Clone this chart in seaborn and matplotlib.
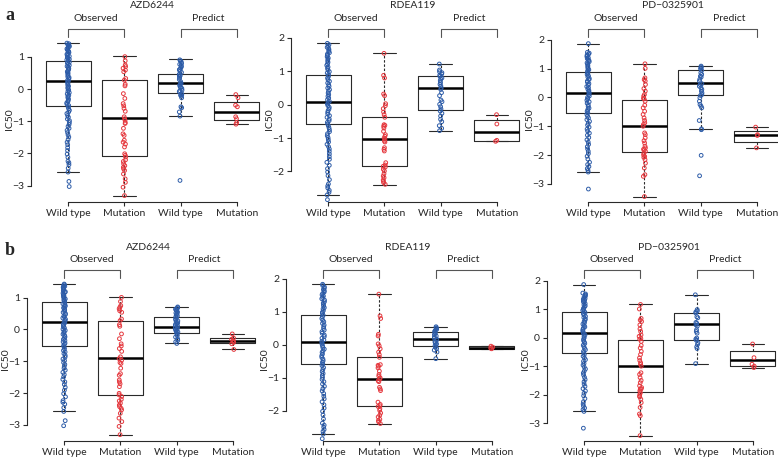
import numpy as np
import pandas as pd
import matplotlib
matplotlib.use("Agg")
import matplotlib.pyplot as plt
import matplotlib.transforms as mtransforms
import seaborn as sns

np.random.seed(7)

# -----------------------------
# Data
# -----------------------------
groups = ["obs_wt", "obs_mut", "pred_wt", "pred_mut"]
tick_labels = ["Wild type", "Mutation", "Wild type", "Mutation"]
drugs = ["AZD6244", "RDEA119", "PD\u22120325901"]

# observed IC50 (same in rows a and b)
azd_obs_wt = [1.43, 1.41, 1.38, 1.36, 1.33, 1.31, 1.28, 1.25, 1.22, 1.19, 1.17, 1.14,
              1.11, 1.08, 1.05, 1.02, 0.99, 0.96, 0.93, 0.91, 0.88, 0.84, 0.81, 0.78,
              0.74, 0.71, 0.68, 0.64, 0.61, 0.57, 0.54, 0.50, 0.47, 0.43, 0.39, 0.36,
              0.32, 0.28, 0.25, 0.21, 0.17, 0.13, 0.09, 0.05, 0.01, -0.03, -0.07, -0.11,
              -0.15, -0.19, -0.23, -0.27, -0.31, -0.35, -0.39, -0.43, -0.47, -0.51,
              -0.56, -0.61, -0.66, -0.71, -0.76, -0.82, -0.87, -0.93, -0.98, -1.04,
              -1.10, -1.16, -1.22, -1.28, -1.35, -1.42, -1.49, -1.57, -1.65, -1.73,
              -1.82, -1.91, -2.02, -2.12, -2.24, -2.29, -2.35, -2.46, -2.58, -2.87, -3.03]
azd_obs_mut = [1.01, 0.75, 0.70, 0.65, 0.59, 0.54, 0.28, 0.15, 0.10, -0.14, -0.29, -0.45,
               -0.60, -0.69, -0.86, -0.92, -0.97, -1.04, -1.07, -1.39, -1.44, -1.59, -1.65,
               -1.80, -2.01, -2.06, -2.11, -2.25, -2.32, -2.38, -2.43, -2.48, -2.53, -2.64,
               -2.79, -2.90, -3.05, -3.31, 0.88, 0.33, -0.52, -1.22, -1.71, -2.20]
rdea_obs_wt = [1.84, 1.80, 1.76, 1.72, 1.68, 1.64, 1.60, 1.56, 1.52, 1.48, 1.44, 1.40,
               1.36, 1.31, 1.27, 1.22, 1.18, 1.13, 1.09, 1.04, 0.99, 0.95, 0.90, 0.85,
               0.80, 0.75, 0.70, 0.65, 0.60, 0.55, 0.50, 0.45, 0.40, 0.35, 0.30, 0.25,
               0.20, 0.15, 0.10, 0.06, 0.02, -0.03, -0.08, -0.13, -0.18, -0.23, -0.28,
               -0.33, -0.38, -0.43, -0.48, -0.53, -0.58, -0.63, -0.69, -0.75, -0.81,
               -0.87, -0.93, -0.99, -1.05, -1.12, -1.19, -1.26, -1.33, -1.40, -1.48,
               -1.56, -1.64, -1.73, -1.82, -1.92, -2.02, -2.13, -2.25, -2.38, -2.44,
               -2.50, -2.57, -2.63, -2.71, -2.85]
rdea_obs_mut = [1.54, 0.88, 0.80, 0.32, 0.27, 0.03, -0.03, -0.12, -0.22, -0.30, -0.38,
                -0.60, -0.65, -0.70, -0.80, -0.90, -0.95, -1.00, -1.04, -1.09, -1.29,
                -1.34, -1.39, -1.74, -1.81, -1.87, -1.94, -1.99, -2.07, -2.14, -2.19,
                -2.26, -2.34, -2.39, -0.62, -1.12, -1.85, -2.30]
pd_obs_wt = [1.87, 1.57, 1.54, 1.51, 1.48, 1.45, 1.42, 1.38, 1.35, 1.31, 1.28, 1.24,
             1.20, 1.16, 1.12, 1.08, 1.04, 1.00, 0.96, 0.92, 0.88, 0.84, 0.80, 0.75,
             0.71, 0.66, 0.62, 0.57, 0.53, 0.48, 0.43, 0.38, 0.34, 0.29, 0.24, 0.20,
             0.15, 0.10, 0.05, 0.00, -0.05, -0.10, -0.15, -0.20, -0.26, -0.31, -0.37,
             -0.42, -0.48, -0.53, -0.59, -0.65, -0.71, -0.77, -0.83, -0.90, -0.96,
             -1.03, -1.10, -1.17, -1.24, -1.31, -1.39, -1.47, -1.55, -1.63, -1.71,
             -1.79, -1.87, -1.95, -2.04, -2.14, -2.25, -2.33, -2.40, -2.47, -2.53,
             -2.59, -3.18]
pd_obs_mut = [1.17, 1.01, 0.68, 0.57, 0.45, 0.31, 0.22, 0.10, 0.05, -0.03, -0.13, -0.27,
              -0.36, -0.48, -0.59, -0.71, -0.80, -0.88, -0.94, -1.00, -1.23, -1.29, -1.40,
              -1.50, -1.58, -1.69, -1.75, -1.81, -1.87, -1.93, -1.99, -2.08, -2.16, -2.28,
              -2.45, -2.68, -2.74, -3.44, 0.62, -0.05, -1.80, -2.05]

# predicted IC50, row a
azd_pred_a_wt = [0.91, 0.88, 0.85, 0.80, 0.77, 0.73, 0.70, 0.65, 0.61, 0.60, 0.56, 0.52,
                 0.46, 0.45, 0.42, 0.39, 0.35, 0.30, 0.23, 0.18, 0.15, 0.12, 0.07, 0.05,
                 0.02, -0.03, -0.05, -0.08, -0.14, -0.17, -0.19, -0.22, -0.27, -0.55,
                 -0.58, -0.71, -0.84, -2.84]
azd_pred_a_mut = [-0.17, -0.27, -0.50, -0.55, -0.86, -0.92, -1.04, -1.09]
rdea_pred_a_wt = [1.22, 1.04, 0.99, 0.96, 0.92, 0.89, 0.85, 0.80, 0.77, 0.72, 0.66, 0.61,
                  0.56, 0.50, 0.46, 0.36, 0.27, 0.14, 0.09, 0.01, -0.06, -0.13, -0.19,
                  -0.26, -0.34, -0.44, -0.51, -0.63, -0.71, -0.78]
rdea_pred_a_mut = [-0.30, -0.58, -1.07, -1.10]
pd_pred_a_wt = [1.09, 1.06, 1.03, 1.00, 0.94, 0.86, 0.80, 0.74, 0.71, 0.63, 0.57, 0.48,
                0.45, 0.39, 0.34, 0.28, 0.22, 0.16, 0.10, 0.07, -0.01, -0.13, -0.24,
                -0.30, -0.36, -0.80, -1.09, -1.12, -2.01, -2.72]
pd_pred_a_mut = [-1.03, -1.29, -1.32, -1.75]

# predicted IC50, row b
azd_pred_b_wt = [0.71, 0.69, 0.66, 0.64, 0.62, 0.60, 0.58, 0.55, 0.52, 0.50, 0.46, 0.43,
                 0.40, 0.37, 0.33, 0.30, 0.27, 0.24, 0.21, 0.18, 0.15, 0.12, 0.09, 0.06,
                 0.03, 0.01, -0.02, -0.05, -0.08, -0.11, -0.15, -0.19, -0.24, -0.29,
                 -0.34, -0.39, -0.44]
azd_pred_b_mut = [-0.14, -0.27, -0.31, -0.35, -0.38, -0.41, -0.45, -0.63]
rdea_pred_b_wt = [0.55, 0.52, 0.50, 0.47, 0.44, 0.41, 0.38, 0.35, 0.31, 0.27, 0.24, 0.20,
                  0.17, 0.14, 0.10, 0.07, 0.03, 0.00, -0.03, -0.07, -0.11, -0.16, -0.22,
                  -0.42]
rdea_pred_b_mut = [-0.04, -0.07, -0.10, -0.12]
pd_pred_b_wt = [1.51, 0.99, 0.94, 0.91, 0.87, 0.74, 0.70, 0.54, 0.51, 0.45, 0.41, 0.28,
                0.22, 0.16, -0.01, -0.05, -0.09, -0.18, -0.24, -0.32, -0.38, -0.91]
pd_pred_b_mut = [-0.22, -0.70, -0.93, -1.00, -1.05]

# box stats: whisker low, q1, median, q3, whisker high
azd_obs_box = [[-2.58, -0.51, 0.25, 0.875, 1.43], [-3.32, -2.07, -0.91, 0.28, 1.03]]
rdea_obs_box = [[-2.71, -0.58, 0.08, 0.90, 1.84], [-2.40, -1.85, -1.03, -0.37, 1.54]]
pd_obs_box = [[-2.59, -0.53, 0.16, 0.89, 1.87], [-3.44, -1.89, -0.98, -0.09, 1.17]]
azd_pred_a_box = [[-0.84, -0.11, 0.18, 0.47, 0.94], [-1.09, -0.97, -0.72, -0.40, -0.17]]
rdea_pred_a_box = [[-0.78, -0.16, 0.51, 0.85, 1.22], [-1.09, -1.09, -0.83, -0.45, -0.30]]
pd_pred_a_box = [[-1.09, 0.08, 0.51, 0.94, 1.09], [-1.75, -1.56, -1.32, -1.17, -1.03]]
azd_pred_b_box = [[-0.44, -0.11, 0.07, 0.40, 0.71], [-0.63, -0.44, -0.37, -0.27, -0.14]]
rdea_pred_b_box = [[-0.42, -0.05, 0.17, 0.40, 0.55], [-0.13, -0.12, -0.09, -0.05, -0.04]]
pd_pred_b_box = [[-0.91, -0.07, 0.48, 0.87, 1.51], [-1.07, -1.00, -0.79, -0.45, -0.22]]

yticks_azd = [-3, -2, -1, 0, 1]
yticks_rdea = [-2, -1, 0, 1, 2]
yticks_pd = [-3, -2, -1, 0, 1, 2]

# -----------------------------
# Style
# -----------------------------
sns.set_style("white")
plt.rcParams["font.family"] = ["Lato", "DejaVu Sans"]
blue = "#2d5ca8"
red = "#e5383e"
line_col = "#2a2a2a"

W, H = 778, 461
fig = plt.figure(figsize=(W / 100, H / 100), dpi=100)


def panel(left, top, bottom, title, obs, pred, obs_box, pred_box, ylim, yticks):
    ax = fig.add_axes([left / W, 1 - bottom / H, 243 / W, (bottom - top) / H])
    hpx = bottom - top

    parts = []
    for g, vals in zip(groups, list(obs) + list(pred)):
        parts.append(pd.DataFrame({"group": g, "IC50": vals}))
    df = pd.concat(parts, ignore_index=True)
    df["status"] = np.where(df["group"].str.endswith("wt"), "wt", "mut")

    box_stats = [dict(whislo=s[0], q1=s[1], med=s[2], q3=s[3], whishi=s[4])
                 for s in list(obs_box) + list(pred_box)]
    ax.bxp(box_stats, positions=range(4), widths=0.8, capwidths=0.4,
           showfliers=False, manage_ticks=False,
           boxprops=dict(color=line_col, linewidth=0.8),
           whiskerprops=dict(color=line_col, linewidth=0.8, linestyle=(0, (2.2, 1.6))),
           capprops=dict(color=line_col, linewidth=0.8),
           medianprops=dict(color="black", linewidth=1.8))

    sns.stripplot(data=df, x="group", y="IC50", order=groups, hue="status",
                  palette={"wt": blue, "mut": red}, jitter=0.025, size=2.7,
                  linewidth=0.7, legend=False, ax=ax, zorder=3)
    for coll in ax.collections:
        fc = coll.get_facecolors()
        if len(fc):
            coll.set_edgecolors(fc)
            coll.set_facecolors("none")
            coll.set_linewidths(0.7)

    ax.set_xlim(-0.66, 3.66)
    ax.set_ylim(*ylim)
    ax.set_xticks(range(4), tick_labels)
    ax.set_yticks(yticks)
    ax.set_xlabel("")
    ax.set_ylabel("IC50", fontsize=7.5)
    ax.yaxis.set_label_coords(-0.072, 0.5)
    for s in ["top", "right"]:
        ax.spines[s].set_visible(False)
    ax.spines["left"].set_bounds(yticks[0], yticks[-1])
    ax.spines["bottom"].set_bounds(0, 3)
    for s in ["left", "bottom"]:
        ax.spines[s].set_color(line_col)
        ax.spines[s].set_linewidth(0.8)
    ax.tick_params(bottom=True, left=True, direction="out", length=3, width=0.8,
                   color=line_col, labelsize=7.5, pad=2)

    # brackets and titles above the plot region
    trans = mtransforms.blended_transform_factory(ax.transData, ax.transAxes)
    yb = 1 + 8 / hpx
    for x0, lab in [(0, "Observed"), (2, "Predict")]:
        ax.plot([x0, x0, x0 + 1, x0 + 1], [1.0, yb, yb, 1.0], transform=trans,
                color="#555555", linewidth=0.8, clip_on=False)
        ax.text(x0 + 0.5, 1 + 18 / hpx, lab, transform=trans, ha="center",
                va="center", fontsize=7.5)
    ax.text(0.5, 1 + 31 / hpx, title, transform=ax.transAxes, ha="center",
            va="center", fontsize=7.5)
    return ax


obs_sets = [(azd_obs_wt, azd_obs_mut), (rdea_obs_wt, rdea_obs_mut), (pd_obs_wt, pd_obs_mut)]
obs_boxes = [azd_obs_box, rdea_obs_box, pd_obs_box]
pred_a = [(azd_pred_a_wt, azd_pred_a_mut), (rdea_pred_a_wt, rdea_pred_a_mut),
          (pd_pred_a_wt, pd_pred_a_mut)]
pred_b = [(azd_pred_b_wt, azd_pred_b_mut), (rdea_pred_b_wt, rdea_pred_b_mut),
          (pd_pred_b_wt, pd_pred_b_mut)]
pred_a_boxes = [azd_pred_a_box, rdea_pred_a_box, pd_pred_a_box]
pred_b_boxes = [azd_pred_b_box, rdea_pred_b_box, pd_pred_b_box]
ylims = [(-3.51, 1.62), (-2.92, 2.03), (-3.63, 2.10)]
yticks_all = [yticks_azd, yticks_rdea, yticks_pd]

lefts_a = [31, 291, 551]
lefts_b = [27, 286, 547]
for i in range(3):
    panel(lefts_a[i], 37, 202, drugs[i], obs_sets[i], pred_a[i], obs_boxes[i],
          pred_a_boxes[i], ylims[i], yticks_all[i])
    panel(lefts_b[i], 278, 441, drugs[i], obs_sets[i], pred_b[i], obs_boxes[i],
          pred_b_boxes[i], ylims[i], yticks_all[i])

fig.text(5 / W, 1 - 15 / H, "a", fontfamily="Liberation Serif", fontweight="bold",
         fontsize=13, va="center")
fig.text(5 / W, 1 - 250 / H, "b", fontfamily="Liberation Serif", fontweight="bold",
         fontsize=13, va="center")

fig.savefig("out.png", dpi=100)
